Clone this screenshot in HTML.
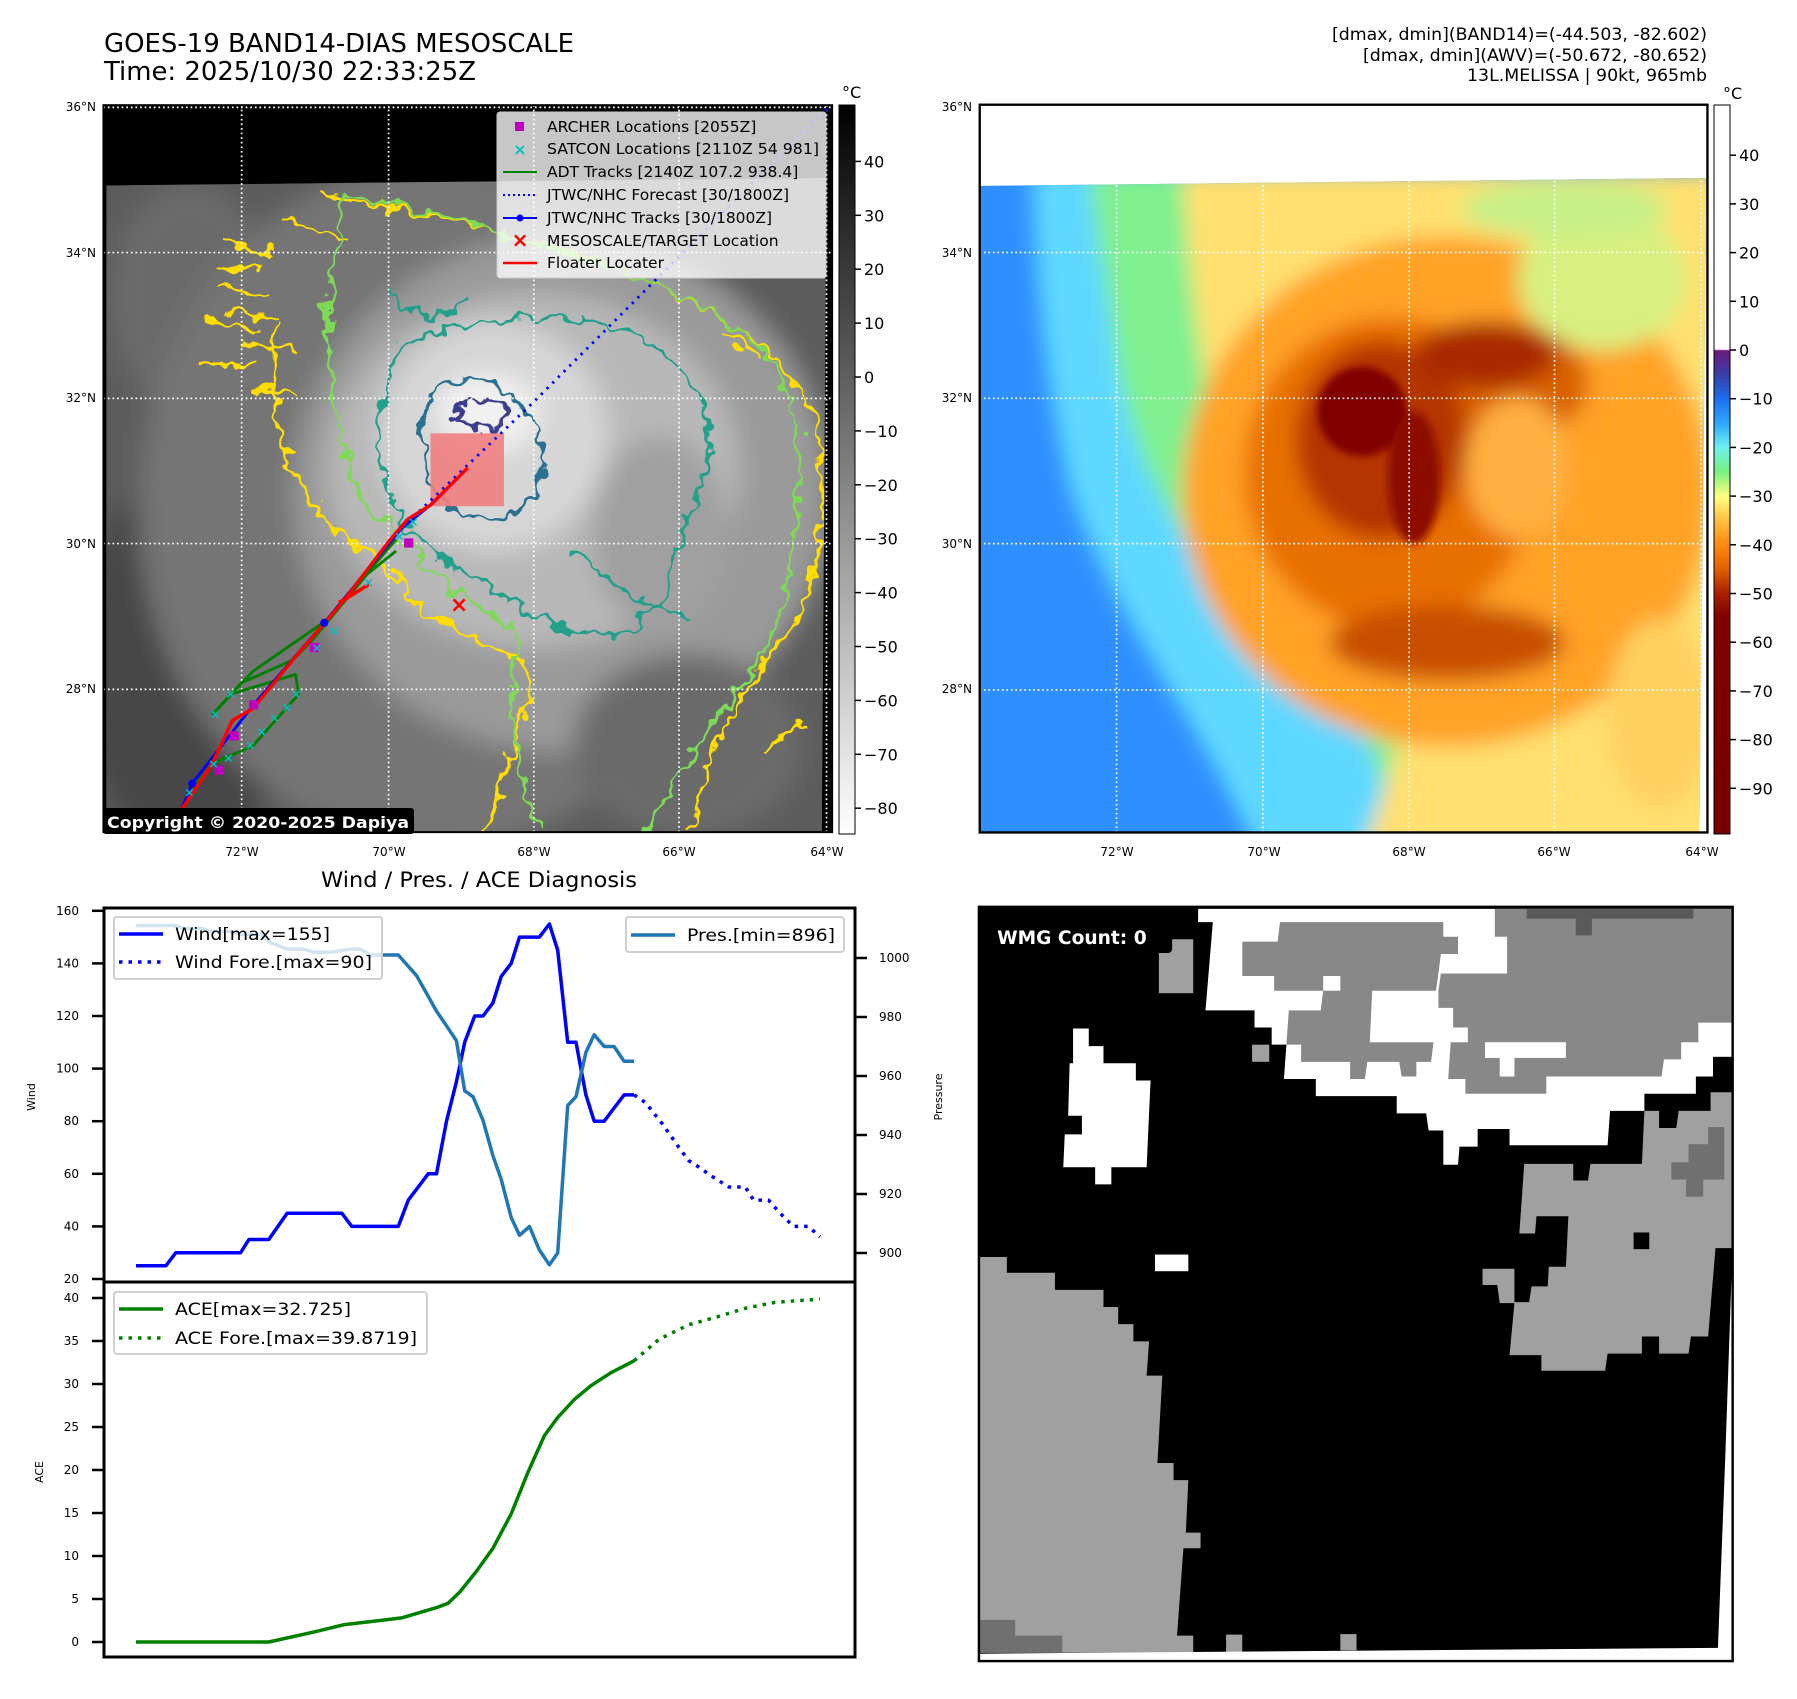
<!DOCTYPE html>
<html><head><meta charset="utf-8">
<style>
html,body{margin:0;padding:0;background:#fff;}
svg text{font-family:"DejaVu Sans","Liberation Sans",sans-serif;}
</style></head>
<body>
<svg id="fig" width="1797" height="1694" viewBox="0 0 1797 1694" xmlns="http://www.w3.org/2000/svg">
<defs>
  <filter id="blur" x="-20%" y="-20%" width="140%" height="140%"><feGaussianBlur stdDeviation="22"/></filter>
  <filter id="blur2"><feGaussianBlur stdDeviation="8"/></filter>
  <filter id="wig" x="-10%" y="-10%" width="120%" height="120%">
    <feTurbulence type="fractalNoise" baseFrequency="0.035" numOctaves="2" seed="4" result="n"/>
    <feDisplacementMap in="SourceGraphic" in2="n" scale="45" xChannelSelector="R" yChannelSelector="G"/>
  </filter>
  <clipPath id="clip1"><rect x="182" y="185" width="1266" height="1263"/></clipPath>
  <clipPath id="imgclip1"><polygon points="185,323 1440,310 1432,1450 185,1450"/></clipPath>
  <clipPath id="clip2"><polygon points="12,182 1550,165 1535,1550 12,1550"/></clipPath>
  <linearGradient id="gcb" x1="0" y1="0" x2="0" y2="1">
    <stop offset="0" stop-color="#000"/><stop offset="1" stop-color="#fff"/>
  </linearGradient>
  <linearGradient id="ccb" x1="0" y1="0" x2="0" y2="1">
    <stop offset="0" stop-color="#fff"/>
    <stop offset="0.335" stop-color="#fff"/>
    <stop offset="0.337" stop-color="#6a1b7a"/>
    <stop offset="0.37" stop-color="#3a3ea8"/>
    <stop offset="0.403" stop-color="#1a6ff0"/>
    <stop offset="0.437" stop-color="#30a8ff"/>
    <stop offset="0.47" stop-color="#70f0f0"/>
    <stop offset="0.503" stop-color="#78f080"/>
    <stop offset="0.537" stop-color="#ffff80"/>
    <stop offset="0.57" stop-color="#ffc040"/>
    <stop offset="0.603" stop-color="#ff8a10"/>
    <stop offset="0.637" stop-color="#e06000"/>
    <stop offset="0.67" stop-color="#a82000"/>
    <stop offset="0.703" stop-color="#800000"/>
    <stop offset="1" stop-color="#780000"/>
  </linearGradient>
</defs>

<!-- Titles -->
<text x="104" y="52" font-size="26" textLength="470" lengthAdjust="spacingAndGlyphs">GOES-19 BAND14-DIAS MESOSCALE</text>
<text x="104" y="80" font-size="26" textLength="372" lengthAdjust="spacingAndGlyphs">Time: 2025/10/30 22:33:25Z</text>
<g font-size="16.5" text-anchor="end">
  <text x="1707" y="40" textLength="375" lengthAdjust="spacingAndGlyphs">[dmax, dmin](BAND14)=(-44.503, -82.602)</text>
  <text x="1707" y="61" textLength="344" lengthAdjust="spacingAndGlyphs">[dmax, dmin](AWV)=(-50.672, -80.652)</text>
  <text x="1707" y="81" textLength="240" lengthAdjust="spacingAndGlyphs">13L.MELISSA | 90kt, 965mb</text>
</g>

<!-- MAP 1 (grayscale) -->
<svg x="0" y="0" width="900" height="900" viewBox="0 0 1568 1568">
  <rect x="180" y="183" width="1270" height="1267" fill="#000"/>
  <g clip-path="url(#clip1)">
    <g clip-path="url(#imgclip1)">
    <polygon points="185,323 1440,310 1432,1450 185,1450" fill="#5c5c5c"/>
    <g filter="url(#blur)">
      <ellipse cx="330" cy="1150" rx="200" ry="330" fill="#464646"/>
      <ellipse cx="330" cy="520" rx="140" ry="200" fill="#6a6a6a"/>
      <ellipse cx="760" cy="880" rx="520" ry="600" fill="#747474"/>
      <ellipse cx="980" cy="860" rx="470" ry="450" fill="#9a9a9a"/>
      <ellipse cx="1200" cy="1300" rx="200" ry="160" fill="#6a6a6a"/>
      <ellipse cx="930" cy="820" rx="360" ry="310" fill="#b8b8b8"/>
      <ellipse cx="860" cy="760" rx="200" ry="200" fill="#d6d6d6"/>
      <ellipse cx="850" cy="720" rx="90" ry="70" fill="#f0f0f0"/>
      <ellipse cx="1150" cy="930" rx="120" ry="170" fill="#a0a0a0"/>
    </g>
    <g fill="none" stroke-width="6" filter="url(#wig)">
      <path d="M560,340 C700,370 900,400 1100,480 C1300,560 1420,650 1430,800 C1440,950 1420,1050 1350,1130 C1290,1200 1240,1300 1200,1450" stroke="#ffdd00"/>
      <path d="M480,560 C465,700 480,800 560,900 C640,960 700,1010 730,1060 C800,1110 900,1130 930,1180 C910,1260 880,1350 850,1450" stroke="#ffdd00"/>
      <path d="M380,500 L470,520 M360,560 L450,575 M350,630 L440,640 M390,420 L470,440 M420,600 L520,610 M500,380 L600,420 M450,680 L520,690 M1260,580 L1320,620 M1330,1300 L1400,1260 M380,460 L460,470 M400,540 L480,550" stroke="#ffdd00"/>
      <path d="M600,340 C560,500 560,700 620,850 C700,950 800,1040 900,1100 C880,1250 900,1380 950,1450 M1120,1450 C1180,1350 1250,1250 1300,1180 C1380,1080 1400,900 1390,760 C1380,640 1300,560 1150,500 C1000,440 800,380 600,340" stroke="#7ed957"/>
      <path d="M700,600 C650,700 640,800 700,900 C780,1000 900,1060 1000,1100 C1100,1120 1150,1080 1160,1000 C1200,900 1260,800 1220,700 C1180,620 1100,560 1000,560 C900,540 780,560 700,600 Z" stroke="#20a08a"/>
      <path d="M1000,960 C1050,1000 1100,1050 1200,1080 M680,500 C700,560 760,560 820,520" stroke="#20a08a"/>
      <path d="M760,680 C720,740 730,820 780,880 C840,920 900,900 930,860 C960,800 940,740 900,700 C860,660 800,650 760,680 Z" stroke="#2a6f8f"/>
      <path d="M800,710 C820,690 870,690 890,720 C880,750 830,755 800,730 Z" stroke="#3a3d8f"/>
    </g>
    </g>
    <g stroke="#fff" stroke-width="3" stroke-dasharray="3,5">
      <line x1="421" y1="183" x2="421" y2="1450"/><line x1="677" y1="183" x2="677" y2="1450"/>
      <line x1="930" y1="183" x2="930" y2="1450"/><line x1="1183" y1="183" x2="1183" y2="1450"/>
      <line x1="1440" y1="183" x2="1440" y2="1450"/>
      <line x1="180" y1="187" x2="1450" y2="187"/><line x1="180" y1="440" x2="1450" y2="440"/>
      <line x1="180" y1="694" x2="1450" y2="694"/><line x1="180" y1="947" x2="1450" y2="947"/>
      <line x1="180" y1="1201" x2="1450" y2="1201"/>
    </g>
    <rect x="750" y="755" width="128" height="127" fill="#f08080" opacity="0.9"/>
    <g fill="none" stroke-width="5" stroke-linejoin="round">
      <polyline points="370,1245 420,1190 510,1150 540,1120 640,1000 690,960" stroke="#008000"/>
      <polyline points="370,1245 440,1170 570,1080 690,940" stroke="#008000"/>
      <polyline points="400,1210 515,1175 520,1210 440,1300 370,1330 330,1380" stroke="#008000"/>
      <polyline points="300,1450 335,1365 440,1230 565,1085 700,920 750,880" stroke="#0000ff"/>
      <polyline points="700,920 930,700 1150,480 1445,185" stroke="#0000ff" stroke-dasharray="4,10"/>
      <polyline points="290,1450 370,1330 405,1255 440,1235 510,1150 600,1045 680,940 710,905 750,880 815,815" stroke="#ff0000" stroke-width="6"/>
      <polyline points="590,1050 640,1020 600,1045" stroke="#ff0000" stroke-width="6"/>
      <circle cx="335" cy="1365" r="7" fill="#0000ff"/><circle cx="565" cy="1085" r="7" fill="#0000ff"/>
    </g>
    <g fill="#c000c0">
      <rect x="374" y="1334" width="16" height="16"/><rect x="400" y="1274" width="16" height="16"/>
      <rect x="434" y="1220" width="16" height="16"/><rect x="540" y="1120" width="16" height="16"/>
      <rect x="704" y="938" width="16" height="16"/>
    </g>
    <g fill="#00c0c0" font-size="22" text-anchor="middle" font-weight="bold">
      <text x="330" y="1388">×</text><text x="372" y="1338">×</text><text x="398" y="1328">×</text>
      <text x="436" y="1306">×</text><text x="456" y="1282">×</text><text x="478" y="1258">×</text>
      <text x="500" y="1240">×</text><text x="516" y="1216">×</text><text x="375" y="1252">×</text>
      <text x="402" y="1216">×</text><text x="552" y="1136">×</text><text x="582" y="1106">×</text>
      <text x="642" y="1022">×</text><text x="696" y="942">×</text><text x="720" y="916">×</text>
    </g>
    <text x="800" y="1066" fill="#ff0000" font-size="38" font-weight="bold" text-anchor="middle">×</text>
  </g>
  <rect x="180" y="183" width="1270" height="1267" fill="none" stroke="#000" stroke-width="3"/>
</svg>

<!-- map1 legend -->
<g font-size="15.5">
  <rect x="497" y="112" width="329" height="166" rx="3" fill="#fff" fill-opacity="0.78" stroke="#ccc"/>
  <rect x="515" y="122" width="9" height="9" fill="#c000c0"/>
  <text x="520" y="155" fill="#00c0c0" font-size="16" font-weight="bold" text-anchor="middle">×</text>
  <line x1="503" y1="172" x2="537" y2="172" stroke="#008000" stroke-width="2"/>
  <line x1="503" y1="195" x2="537" y2="195" stroke="#0000ff" stroke-width="2" stroke-dasharray="2,3"/>
  <line x1="503" y1="218" x2="537" y2="218" stroke="#0000ff" stroke-width="2"/><circle cx="520" cy="218" r="3.5" fill="#0000ff"/>
  <text x="520" y="247" fill="#ff0000" font-size="20" font-weight="bold" text-anchor="middle">×</text>
  <line x1="503" y1="263" x2="537" y2="263" stroke="#ff0000" stroke-width="2.5"/>
  <text x="547" y="132">ARCHER Locations [2055Z]</text>
  <text x="547" y="154" textLength="272" lengthAdjust="spacingAndGlyphs">SATCON Locations [2110Z 54 981]</text>
  <text x="547" y="177">ADT Tracks [2140Z 107.2 938.4]</text>
  <text x="547" y="200">JTWC/NHC Forecast [30/1800Z]</text>
  <text x="547" y="223">JTWC/NHC Tracks [30/1800Z]</text>
  <text x="547" y="246">MESOSCALE/TARGET Location</text>
  <text x="547" y="268">Floater Locater</text>
</g>
<g>
  <rect x="103" y="808" width="311" height="26" rx="3" fill="#000"/>
  <text x="107" y="828" fill="#fff" font-size="16" font-weight="bold" textLength="302" lengthAdjust="spacingAndGlyphs">Copyright © 2020-2025 Dapiya</text>
</g>

<!-- lat/lon labels -->
<g font-size="12">
  <g text-anchor="end">
    <text x="96" y="111">36°N</text><text x="96" y="257">34°N</text><text x="96" y="402">32°N</text><text x="96" y="548">30°N</text><text x="96" y="693">28°N</text>
    <text x="972" y="111">36°N</text><text x="972" y="257">34°N</text><text x="972" y="402">32°N</text><text x="972" y="548">30°N</text><text x="972" y="693">28°N</text>
  </g>
  <g text-anchor="middle">
    <text x="242" y="856">72°W</text><text x="389" y="856">70°W</text><text x="534" y="856">68°W</text><text x="679" y="856">66°W</text><text x="827" y="856">64°W</text>
    <text x="1117" y="856">72°W</text><text x="1264" y="856">70°W</text><text x="1409" y="856">68°W</text><text x="1554" y="856">66°W</text><text x="1702" y="856">64°W</text>
  </g>
</g>

<!-- colorbar 1 -->
<g>
  <rect x="839" y="105" width="16" height="729" fill="url(#gcb)" stroke="#000" stroke-width="1"/>
  <text x="842" y="98" font-size="16">°C</text>
  <g id="cb1ticks" font-size="16"></g>
</g>

<!-- MAP 2 (color) -->
<svg x="975" y="100" width="740" height="740" viewBox="0 0 1568 1568">
  <rect x="10" y="10" width="1542" height="1542" fill="#fff"/>
  <g clip-path="url(#clip2)">
    <rect x="0" y="0" width="1568" height="1568" fill="#2f8fff"/>
    <g filter="url(#blur)">
      <path d="M120,150 L1600,150 L1600,1600 L600,1600 C470,1300 290,1100 200,820 C150,600 130,400 120,150 Z" fill="#5fd8ff"/>
      <path d="M240,150 L1600,150 L1600,1600 L880,1600 C880,1350 760,1230 600,1140 C450,950 340,800 300,550 C280,400 260,300 240,150 Z" fill="#80f090"/>
      <path d="M440,150 L1600,150 L1600,1600 L820,1600 C870,1450 930,1320 880,1220 C700,1150 600,1100 600,980 C520,800 470,600 440,150 Z" fill="#ffe070"/>
      <ellipse cx="1000" cy="830" rx="560" ry="540" fill="#ffa228"/>
      <ellipse cx="1330" cy="380" rx="180" ry="150" fill="#d8f080"/>
      <ellipse cx="1250" cy="230" rx="220" ry="60" fill="#c8f088"/>
      <ellipse cx="1450" cy="1300" rx="110" ry="200" fill="#ffd060"/>
      <ellipse cx="880" cy="790" rx="310" ry="330" fill="#e87000"/>
      <ellipse cx="1100" cy="600" rx="200" ry="130" fill="#d86000"/>
      <ellipse cx="1150" cy="780" rx="110" ry="150" fill="#ffb040"/>
      <ellipse cx="860" cy="720" rx="180" ry="210" fill="#b43400"/>
      <ellipse cx="1080" cy="540" rx="150" ry="70" fill="#a82a00"/>
      <ellipse cx="1000" cy="1150" rx="250" ry="80" fill="#c85000"/>
    </g>
    <g filter="url(#blur2)">
      <ellipse cx="820" cy="660" rx="95" ry="95" fill="#800000"/>
      <ellipse cx="930" cy="800" rx="55" ry="140" fill="#8c1000"/>
    </g>
    <g stroke="#fff" stroke-width="3.5" stroke-dasharray="3.5,6">
      <line x1="300" y1="0" x2="300" y2="1568"/><line x1="610" y1="0" x2="610" y2="1568"/>
      <line x1="920" y1="0" x2="920" y2="1568"/><line x1="1228" y1="0" x2="1228" y2="1568"/>
      <line x1="1538" y1="0" x2="1538" y2="1568"/>
      <line x1="0" y1="323" x2="1568" y2="323"/><line x1="0" y1="632" x2="1568" y2="632"/>
      <line x1="0" y1="940" x2="1568" y2="940"/><line x1="0" y1="1250" x2="1568" y2="1250"/>
    </g>
  </g>
  <rect x="10" y="10" width="1542" height="1542" fill="none" stroke="#000" stroke-width="5"/>
</svg>

<!-- colorbar 2 -->
<g>
  <rect x="1714" y="105" width="16" height="729" fill="url(#ccb)" stroke="#000" stroke-width="1"/>
  <text x="1723" y="99" font-size="16">°C</text>
  <g id="cb2ticks" font-size="16"></g>
</g>

<!-- WMG panel -->
<svg x="975" y="900" width="765" height="765" viewBox="0 0 1560 1560">
  <rect x="8" y="14" width="1537" height="1538" fill="#000"/>
  <polygon fill="#fff" points="455,18 1545,18 1545,320 1505,320 1505,360 1470,360 1470,395 1365,395 1365,430 1295,430 1290,500 1090,500 1090,467 1025,467 1025,503 988,503 985,540 955,540 955,470 925,470 920,435 860,435 860,400 695,400 695,365 630,365 635,295 605,295 605,260 570,260 570,225 470,225 485,45 455,45"/>
  <polygon fill="#888" points="545,85 617,85 622,45 955,45 955,75 985,75 985,110 950,110 945,150 940,185 810,185 805,290 935,290 930,330 900,330 900,360 870,360 865,330 800,330 795,365 765,365 765,330 665,330 665,295 635,295 640,225 705,225 710,185 610,185 610,155 545,155"/>
  <polygon fill="#888" points="1060,18 1545,18 1545,250 1475,250 1475,290 1440,290 1440,325 1405,325 1400,360 1165,360 1165,395 1000,395 1000,365 965,365 970,290 1005,290 1005,260 975,260 975,220 945,220 945,185 950,150 1085,150 1085,75 1060,75"/>
  <rect x="1040" y="290" width="165" height="32" fill="#fff"/><rect x="1070" y="320" width="30" height="40" fill="#fff"/>
  <rect x="710" y="155" width="35" height="30" fill="#fff"/>
  <rect x="1125" y="18" width="340" height="20" fill="#5a5a5a"/><rect x="1225" y="38" width="33" height="34" fill="#5a5a5a"/>
  <rect x="375" y="80" width="70" height="110" fill="#a0a0a0"/>
  <rect x="565" y="295" width="35" height="35" fill="#a0a0a0"/>
  <rect x="1505" y="320" width="40" height="75" fill="#000"/>
  <polygon fill="#fff" points="200,262 232,262 232,298 262,298 262,333 328,333 328,368 358,368 350,545 278,545 278,580 245,580 245,545 180,545 183,478 218,478 218,440 190,440 193,333 200,333"/>
  <rect x="367" y="723" width="68" height="34" fill="#fff"/>
  <polygon fill="#a0a0a0" points="1120,538 1220,538 1220,572 1250,572 1255,538 1360,538 1365,430 1395,430 1395,465 1430,465 1435,430 1500,430 1500,392 1545,392 1545,710 1510,710 1495,890 1460,890 1455,925 1395,925 1395,890 1360,890 1360,925 1290,925 1285,960 1155,960 1155,928 1090,928 1100,822 1070,822 1065,785 1035,785 1035,752 1100,752 1100,820 1130,820 1135,788 1168,788 1170,748 1205,748 1210,645 1145,645 1142,680 1110,680"/>
  <rect x="1343" y="678" width="32" height="34" fill="#000"/>
  <rect x="1495" y="463" width="33" height="107" fill="#707070"/><rect x="1420" y="535" width="100" height="35" fill="#707070"/><rect x="1455" y="498" width="70" height="37" fill="#707070"/><rect x="1450" y="570" width="35" height="35" fill="#707070"/>
  <polygon fill="#a0a0a0" points="10,728 65,728 65,760 163,760 163,795 262,795 262,830 292,830 292,865 323,865 323,900 355,900 350,970 382,970 372,1148 405,1148 405,1183 435,1183 430,1290 460,1290 460,1322 425,1322 412,1500 445,1500 445,1535 10,1535"/>
  <polygon fill="#707070" points="10,1468 82,1468 82,1500 178,1500 178,1535 10,1535"/>
  <rect x="512" y="1498" width="33" height="37" fill="#a0a0a0"/><rect x="745" y="1497" width="33" height="33" fill="#a0a0a0"/>
  <polygon fill="#fff" points="1545,700 1545,1552 10,1552 10,1537 1515,1525 1530,1135"/>
  <rect x="8" y="14" width="1537" height="1538" fill="none" stroke="#000" stroke-width="5"/>
  <rect x="14" y="44" width="388" height="64" rx="8" fill="#000"/>
  <text x="45" y="90" fill="#fff" font-size="38" font-weight="bold">WMG Count: 0</text>
</svg>

<!-- Chart -->
<text x="321" y="887" font-size="21" textLength="316" lengthAdjust="spacingAndGlyphs">Wind / Pres. / ACE Diagnosis</text>
<g id="chart"></g>
</svg>

<script>
// ---- chart data ----
const windHours = [0,18,24,63,68,80,91,124,130,158,164,176,181,187,193,198,204,209,215,220,226,231,243,249,254,260,265,271,276,282,288,294,300];
const windValues = [25,25,30,30,35,35,45,45,40,40,50,60,60,80,95,110,120,120,125,135,140,150,150,155,145,110,110,90,80,80,85,90,90];
const windForeHours = [300,307,317,327,333,338,347,357,367,372,381,388,396,405,412];
const windForeValues = [90,87,79,70,65,63,59,55,55,50,50,45,40,40,36];
const presHours = [0,24,29,39,46,56,63,75,82,91,101,107,118,129,135,141,158,169,176,181,187,193,198,203,209,215,220,226,231,237,243,249,254,260,265,271,276,282,288,294,300];
const presValues = [1011,1011,1010,1010,1009,1009,1008,1008,1005,1003,1003,1002,1002,1003,1003,1001,1001,994,987,982,977,972,955,953,945,933,925,912,906,909,901,896,900,950,953,968,974,970,970,965,965];
const aceHours = [0,80,108,125,160,181,188,195,205,215,226,236,246,254,264,274,286,300];
const aceValues = [0,0,1.2,2,2.8,4,4.5,5.8,8.2,10.9,14.9,19.7,24,26.1,28.2,29.8,31.3,32.7];
const aceForeHours = [300,315,333,350,367,385,412];
const aceForeValues = [32.7,35.2,36.9,37.8,38.8,39.5,39.87];
const windTicks = [20,40,60,80,100,120,140,160];
const presTicks = [900,920,940,960,980,1000];
const aceTicks = [0,5,10,15,20,25,30,35,40];
const grayCbTicks = [40,30,20,10,0,-10,-20,-30,-40,-50,-60,-70,-80];
const colorCbTicks = [40,30,20,10,0,-10,-20,-30,-40,-50,-60,-70,-80,-90];

const NS = 'http://www.w3.org/2000/svg';
function mk(tag, attrs, parent){ const e=document.createElementNS(NS,tag); for(const k in attrs) e.setAttribute(k,attrs[k]); parent.appendChild(e); return e; }
const xS = h => 136 + (h-0)/(412-0)*(820-136);
const yWind = w => 1279 - (w-20)*2.63;
const yPres = p => 1253 - (p-900)*2.95;
const yAce = a => 1642 - a*8.6;
const fmt = v => (v<0?'\u2212'+Math.abs(v):String(v));

const cb1 = document.getElementById('cb1ticks');
grayCbTicks.forEach(v=>{
  const y = 377 - v*5.39;
  const t = mk('line',{x1:855,x2:861,y1:y,y2:y,stroke:'#000','stroke-width':1.5},cb1);
  
  
  const l = mk('text',{x:864,y:y+6},cb1); l.textContent = fmt(v);
  
  
});
const cb2 = document.getElementById('cb2ticks');
colorCbTicks.forEach(v=>{
  const y = 350 - v*4.87;
  const t = mk('line',{x1:1730,x2:1736,y1:y,y2:y,stroke:'#000','stroke-width':1.5},cb2);
  
  
  const l = mk('text',{x:1739,y:y+6},cb2); l.textContent = fmt(v);
  
  
});

const g = document.getElementById('chart');
const f1 = mk('rect',{x:104,y:908,width:751,height:374,fill:'none',stroke:'#000','stroke-width':3},g);


const f2 = mk('rect',{x:104,y:1282,width:751,height:375,fill:'none',stroke:'#000','stroke-width':3},g);



windTicks.forEach(v=>{ const y=yWind(v);
  const t=mk('line',{x1:92,x2:104,y1:y,y2:y,stroke:'#000','stroke-width':2.5},g);
   
  const l=mk('text',{x:79,y:y+4,'font-size':12,'text-anchor':'end'},g); l.textContent=v;
   
});
presTicks.forEach(v=>{ const y=yPres(v);
  const t=mk('line',{x1:855,x2:867,y1:y,y2:y,stroke:'#000','stroke-width':2.5},g);
   
  const l=mk('text',{x:879,y:y+4,'font-size':12},g); l.textContent=v;
   
});
aceTicks.forEach(v=>{ const y=yAce(v);
  const t=mk('line',{x1:92,x2:104,y1:y,y2:y,stroke:'#000','stroke-width':2.5},g);
   
  const l=mk('text',{x:79,y:y+4,'font-size':12,'text-anchor':'end'},g); l.textContent=v;
   
});
const yl1=mk('text',{x:0,y:0,'font-size':11,'text-anchor':'middle',transform:'translate(35,1097) rotate(-90)'},g); yl1.textContent='Wind';
 
const yl2=mk('text',{x:0,y:0,'font-size':11,'text-anchor':'middle',transform:'translate(942,1097) rotate(-90)'},g); yl2.textContent='Pressure';
 
const yl3=mk('text',{x:0,y:0,'font-size':11,'text-anchor':'middle',transform:'translate(43,1472) rotate(-90)'},g); yl3.textContent='ACE';
 

function pts(xs, ys, fy){ return xs.map((h,i)=>xS(h).toFixed(1)+','+fy(ys[i]).toFixed(1)).join(' '); }
const pw = mk('polyline',{points:pts(windHours,windValues,yWind),fill:'none',stroke:'#0000ff','stroke-width':3.5,'stroke-linejoin':'round'},g);
 
const pwf = mk('polyline',{points:pts(windForeHours,windForeValues,yWind),fill:'none',stroke:'#0000ff','stroke-width':3.5,'stroke-dasharray':'3.5,6'},g);
 
const pp = mk('polyline',{points:pts(presHours,presValues,yPres),fill:'none',stroke:'#1f77b4','stroke-width':3.5,'stroke-linejoin':'round'},g);
 
const pa = mk('polyline',{points:pts(aceHours,aceValues,yAce),fill:'none',stroke:'#008000','stroke-width':3.5,'stroke-linejoin':'round'},g);
 
const paf = mk('polyline',{points:pts(aceForeHours,aceForeValues,yAce),fill:'none',stroke:'#008000','stroke-width':3.5,'stroke-dasharray':'3.5,6'},g);
 

function legend(name, x, y, w, h, items){
  const lg = mk('g',{},g);
  
  
  mk('rect',{x:x,y:y,width:w,height:h,rx:3,fill:'#fff','fill-opacity':0.8,stroke:'#d0d0d0','stroke-width':2},lg);
  items.forEach(it=>{
    mk('line',{x1:x+5,x2:x+49,y1:it.y,y2:it.y,stroke:it.c,'stroke-width':3.5,'stroke-dasharray':it.d||'none'},lg);
    const t=mk('text',{x:x+61,y:it.y+6,'font-size':17,textLength:it.w,lengthAdjust:'spacingAndGlyphs'},lg); t.textContent=it.t;
  });
}
legend('wind-legend',114,917,268,62,[{y:934,c:'#0000ff',t:'Wind[max=155]',w:155},{y:962,c:'#0000ff',t:'Wind Fore.[max=90]',w:197,d:'3.5,6'}]);
legend('pressure-legend',626,917,218,35,[{y:935,c:'#1f77b4',t:'Pres.[min=896]',w:148}]);
legend('ace-legend',114,1292,313,62,[{y:1309,c:'#008000',t:'ACE[max=32.725]',w:176},{y:1338,c:'#008000',t:'ACE Fore.[max=39.8719]',w:242,d:'3.5,6'}]);
</script>
</body></html>
